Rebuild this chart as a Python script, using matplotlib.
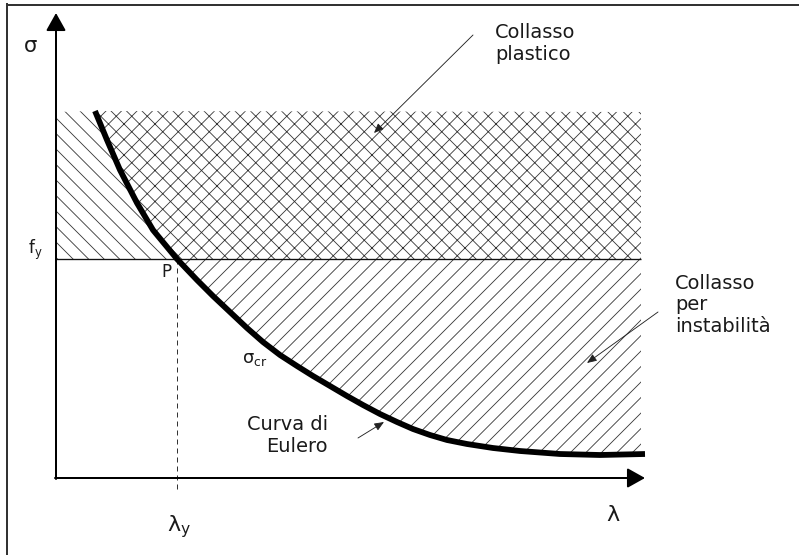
import matplotlib
matplotlib.use("Agg")
import matplotlib.pyplot as plt
from matplotlib.lines import Line2D
import numpy as np

# ---- data (lambda, sigma) in drawing units ----
lam_curve = [39, 51, 64, 81, 97, 121, 141, 157, 174, 191, 207, 224, 241, 257,
             274, 291, 307, 324, 341, 357, 374, 391, 411, 437, 464, 504, 544, 589]
sig_curve = [367, 338, 308, 275, 248, 219, 198, 182, 166, 150, 136, 123, 112, 102,
             92, 82, 73, 64, 56, 49, 43, 38, 34, 30, 27, 24, 23, 24]
f_y = 219          # yield stress level
lam_y = 121        # slenderness at point P
sig_top = 366      # top of hatched domain
lam_max = 585      # right end of hatched domain
lam_axis_end = 589
sig_axis_end = 465

DPI = 93
S = 80.0 / DPI      # keeps pixel sizes of text/lines while hatch spacing follows DPI

plt.rcParams["hatch.linewidth"] = 0.75 * S

fig = plt.figure(figsize=(799 / DPI, 555 / DPI), dpi=DPI)
ax = fig.add_axes([0, 0, 1, 1])
ax.set_xlim(-56, 743)
ax.set_ylim(-77, 478)
ax.axis("off")

lam = np.array(lam_curve, dtype=float)
sig = np.array(sig_curve, dtype=float)
up = sig >= f_y
low = (lam >= lam_y) & (lam <= lam_max)
hc = "#333333"

# cross-hatched region: plastic collapse (right of curve, above f_y)
xa = list(lam[up]) + [lam_max, lam_max]
ya = list(sig[up]) + [f_y, sig_top]
ax.fill(xa, ya, facecolor="white", edgecolor=hc, hatch="xx", lw=0)

# back-hatched region left of the curve above f_y
xb = [0, 0] + list(lam[up])
yb = [f_y, sig_top] + list(sig[up])
ax.fill(xb, yb, facecolor="white", edgecolor=hc, hatch="\\\\", lw=0)

# forward-hatched region: instability collapse (below f_y, above curve)
xc = list(lam[low]) + [lam_max, lam_max]
yc = list(sig[low]) + [sig[low][-1], f_y]
ax.fill(xc, yc, facecolor="white", edgecolor=hc, hatch="//", lw=0)

# f_y line
ax.plot([0, lam_max], [f_y, f_y], color="#111111", lw=1.2 * S, solid_capstyle="butt")

# dashed line from P
ax.plot([lam_y, lam_y], [f_y, -12], color="#333333", lw=0.9 * S, ls=(0, (5, 4)))

# Euler curve
ax.plot(lam, sig, color="black", lw=5.2 * S, solid_capstyle="butt", solid_joinstyle="round")

# axes with arrows
axp = dict(arrowstyle="-|>,head_length=0.75,head_width=0.42",
           mutation_scale=18 * S, lw=1.8 * S, color="black", shrinkA=0, shrinkB=0)
ax.annotate("", xy=(0, sig_axis_end), xytext=(0, -1), arrowprops=axp)
ax.annotate("", xy=(lam_axis_end, 0), xytext=(-1, 0), arrowprops=axp)

tc = "#1a1a1a"
fam = ["DejaVu Sans"]
ax.text(-25, 432, "σ", fontsize=19 * S, color=tc, ha="center", va="center", family=fam)
ax.text(-21, 228, r"f$_\mathregular{y}$", fontsize=15 * S, color=tc, ha="center", va="center", family=fam)
ax.text(110, 206, "P", fontsize=15 * S, color=tc, ha="center", va="center", family=fam)
ax.text(557, -37, "λ", fontsize=20 * S, color=tc, ha="center", va="center", family=fam)
ax.text(123, -49, r"λ$_\mathregular{y}$", fontsize=20 * S, color=tc, ha="center", va="center", family=fam)
ax.text(199, 119, r"σ$_\mathregular{cr}$", fontsize=16 * S, color=tc, ha="center", va="center", family=fam)

ax.text(439, 435, "Collasso\nplastico", fontsize=17.5 * S, color=tc, ha="left", va="center",
        linespacing=1.2, family=fam)
ax.text(619, 173, "Collasso\nper\ninstabilità", fontsize=17.5 * S, color=tc, ha="left", va="center",
        linespacing=1.15, family=fam)
ax.text(272, 42, "Curva di\nEulero", fontsize=17.5 * S, color=tc, ha="right", va="center",
        multialignment="right", linespacing=1.2, family=fam)

# annotation arrows
ap = dict(arrowstyle="-|>,head_length=0.6,head_width=0.25", mutation_scale=12 * S,
          lw=0.8 * S, color="#222222", shrinkA=0, shrinkB=0)
ax.annotate("", xy=(318, 345), xytext=(417, 443), arrowprops=ap)
ax.annotate("", xy=(531, 115), xytext=(602, 166), arrowprops=ap)
ax.annotate("", xy=(328, 56), xytext=(302, 40), arrowprops=ap)

# partial frame (left and top)
fig.add_artist(Line2D([7 / 799, 7 / 799], [0, 1 - 4 / 555], transform=fig.transFigure,
                      color="#333333", lw=1.8 * S))
fig.add_artist(Line2D([7 / 799, 1], [1 - 5 / 555, 1 - 5 / 555], transform=fig.transFigure,
                      color="#333333", lw=1.8 * S))

fig.savefig("out.png", dpi=DPI, facecolor="white")
